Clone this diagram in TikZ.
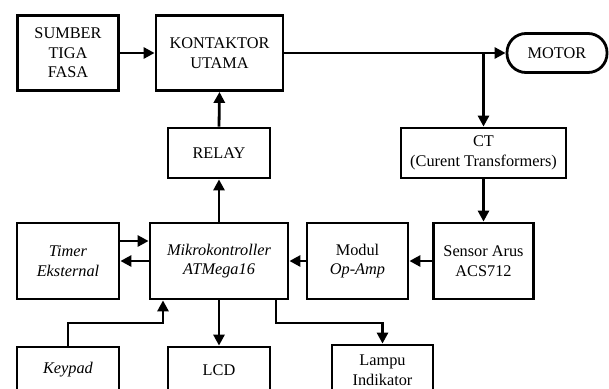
\documentclass[tikz,border=0pt]{standalone}
\usepackage{fontspec}
\setmainfont{Liberation Serif}
\usetikzlibrary{arrows.meta}
\begin{document}
\begin{tikzpicture}[x=1pt,y=-1pt,
  box/.style={draw, line width=2.8pt, align=center, inner sep=1pt,
    font=\fontsize{16.3}{19.5}\selectfont},
  conn/.style={line width=2.8pt, -{Triangle[length=11pt,width=11pt]}},
  wire/.style={line width=2.8pt}]
\useasboundingbox (0,0) rectangle (609,388);
\clip (0,0) rectangle (609,388);
\node[box, minimum width=101pt, minimum height=75pt] (sumber) at (68,53) {SUMBER\\TIGA\\FASA};
\node[box, minimum width=127pt, minimum height=75pt] (kont) at (219.5,53) {KONTAKTOR\\UTAMA};
\node[box, minimum width=100pt, minimum height=39pt, rounded corners=19pt] (motor) at (557,53) {MOTOR};
\node[box, minimum width=102pt, minimum height=50pt] (relay) at (219,153) {RELAY};
\node[box, minimum width=165pt, minimum height=50pt] (ct) at (483.5,153) {CT\\(Curent Transformers)};
\node[box, minimum width=102pt, minimum height=76pt] (timer) at (68,261) {\textit{Timer}\\\textit{Eksternal}};
\node[box, minimum width=138pt, minimum height=76pt] (mikro) at (219,261) {\textit{Mikrokontroller}\\\textit{ATMega16}};
\node[box, minimum width=101pt, minimum height=76pt] (modul) at (357.5,261) {Modul\\\textit{Op-Amp}};
\node[box, minimum width=100pt, minimum height=76pt] (sensor) at (483.5,261) {Sensor Arus\\ACS712};
\node[box, minimum width=102pt, minimum height=46pt] (keypad) at (68,370) {\textit{Keypad}};
\node[box, minimum width=102pt, minimum height=46pt] (lcd) at (219,370) {LCD};
\node[box, minimum width=101pt, minimum height=50pt] (lampu) at (382.5,370) {Lampu\\Indikator};
% connectors
\draw[conn] (sumber.east) -- (kont.west);
\draw[conn] (kont.east) -- (motor.west);
\coordinate (jct) at (483.5,53);
\draw[conn] (jct) -- (ct.north);
\draw[conn] (relay.north) -- (kont.south);
\draw[conn] (mikro.north) -- (relay.south);
\draw[conn] (ct.south) -- (sensor.north);
\draw[conn] (sensor.west) -- (modul.east);
\draw[conn] (modul.west) -- (mikro.east);
\draw[conn] ([yshift=20pt]timer.east) -- ([yshift=20pt]mikro.west);
\draw[conn] (mikro.west) -- (timer.east);
\coordinate (kin) at ([xshift=-56pt]mikro.south);
\coordinate (kb) at (68,323);
\draw[conn] (keypad.north) -- (kb) -| (kin);
\draw[conn] (mikro.south) -- (lcd.north);
\coordinate (lout) at ([xshift=57pt]mikro.south);
\coordinate (lb) at (382.5,323);
\draw[conn] (lout) |- (lb) -- (lampu.north);
\end{tikzpicture}
\end{document}
